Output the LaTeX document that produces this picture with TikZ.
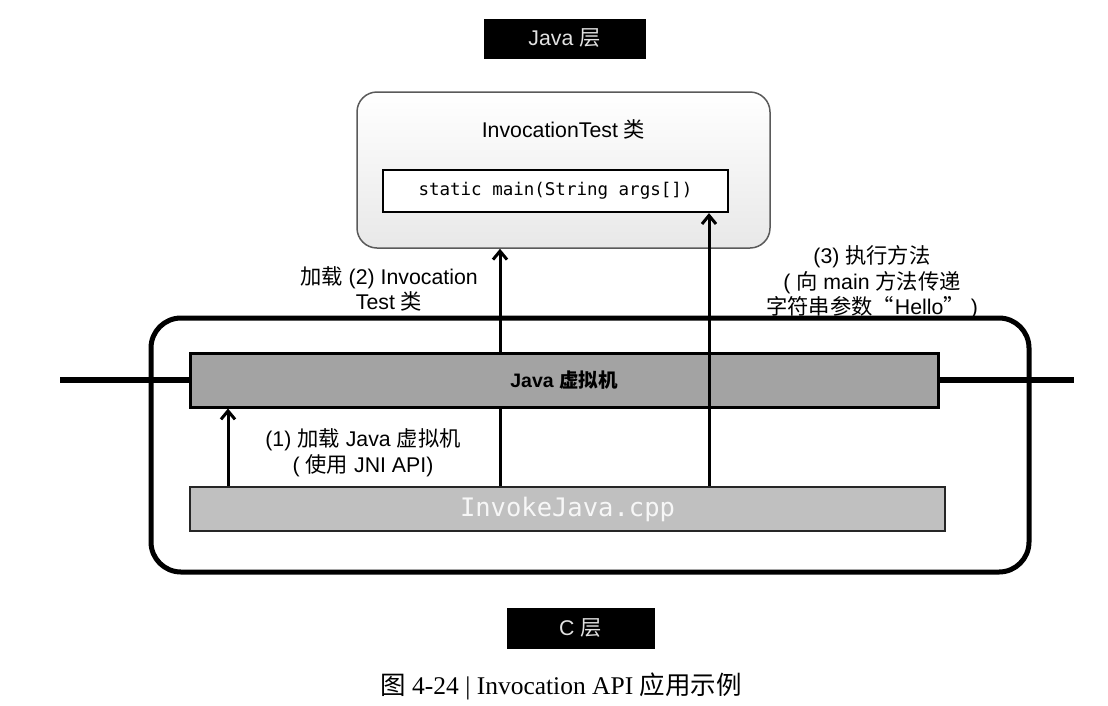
\documentclass[tikz,border=0pt]{standalone}
\usepackage{fontspec}
\setmainfont{Liberation Sans}
\setmonofont{DejaVu Sans Mono}
\newfontfamily\zh{Noto Sans CJK SC}
\newfontfamily\capfont{Liberation Serif}
\usetikzlibrary{arrows.meta}
\definecolor{vmgray}{HTML}{A3A3A3}
\definecolor{ijgray}{HTML}{C0C0C0}
\definecolor{boxedge}{HTML}{5A5A5A}
\definecolor{lighttext}{HTML}{E2E2E2}
\begin{document}
\begin{tikzpicture}[x=1pt,y=-1pt,
  txt/.style={font=\fontsize{21.3}{25.5}\selectfont, align=center, inner sep=0pt},
  layerlabel/.style={fill=black, draw=black, text=lighttext, minimum height=39pt, inner sep=0pt, font=\fontsize{21.3}{24}\selectfont},
  bar/.style={draw=black, line width=3pt, inner sep=0pt},
  arr/.style={line width=3pt, -{Straight Barb[length=8.5pt,width=14pt,line width=3pt]}},
  plain/.style={line width=3pt}
]
\useasboundingbox (0,0) rectangle (1108,705);
\fill[white] (0,0) rectangle (1108,705);

% Java layer label
\node[layerlabel, minimum width=161pt] (javalayer) at (564.5,38.5) {Java {\zh 层}};

% InvocationTest class box
\node[draw=boxedge, line width=1.5pt, rounded corners=20pt, top color=white, bottom color=black!9,
      minimum width=413pt, minimum height=156pt, inner sep=0pt] (itest) at (563.5,170) {};
\node[txt] (itesttitle) at (563.5,129) {InvocationTest {\zh 类}};
\node[draw=black, fill=white, line width=2.2pt, minimum width=345pt, minimum height=42pt, inner sep=0pt,
      font=\ttfamily\fontsize{17.5}{20}\selectfont] (mainm) at (555.5,191) {static main(String args[])};

% C layer outer box
\node[draw=black, line width=5pt, rounded corners=30pt, minimum width=878pt, minimum height=254pt, inner sep=0pt] (clayer) at (590,445) {};

% horizontal boundary line
\coordinate (hl) at (60,380);
\coordinate (hr) at (1074,380);
\draw[line width=5.5pt] (hl) -- (hr);

% Java VM bar
\node[bar, fill=vmgray, minimum width=748pt, minimum height=54pt,
      font=\bfseries\fontsize{19.5}{22}\selectfont] (vm) at (564,380) {Java {\zh\bfseries 虚拟机}};

% InvokeJava.cpp bar
\node[bar, line width=2.5pt, draw=black!85, fill=ijgray, text=white!97!black, minimum width=755pt, minimum height=44pt,
      font=\ttfamily\fontsize{25.5}{28}\selectfont] (ij) at (567.5,509) {InvokeJava.cpp};

% connectors
\coordinate (xa) at (228,0);
\coordinate (xb) at (500,0);
\coordinate (xc) at (709,0);
\draw[arr] (ij.north -| xa) -- (vm.south -| xa);
\draw[plain] (ij.north -| xb) -- (vm.south -| xb);
\draw[arr] (vm.north -| xb) -- (itest.south -| xb);
\draw[arr] (ij.north -| xc) -- (mainm.south -| xc);

% labels
\node[txt] (l2) at (389,289) {{\zh 加载} (2) Invocation\\Test {\zh 类}};
\node[txt] (l3) at (872,282.5) {(3) {\zh 执行方法}\\( {\zh 向} main {\zh 方法传递}\\{\zh 字符串参数“}\hspace{1pt}Hello{\zh ”}\hspace{6pt})};
\node[txt] (l1) at (363,452.5) {(1) {\zh 加载} Java {\zh 虚拟机}\\( {\zh 使用} JNI API)};

% C layer label
\node[layerlabel, minimum width=147pt, minimum height=40pt] (clabel) at (580.5,628) {C {\zh 层}};

% caption
\node[inner sep=0pt, font=\capfont\fontsize{25.5}{28}\selectfont] (caption) at (561,686) {{\zh 图} 4-24 | Invocation API {\zh 应用示例}};
\end{tikzpicture}
\end{document}
